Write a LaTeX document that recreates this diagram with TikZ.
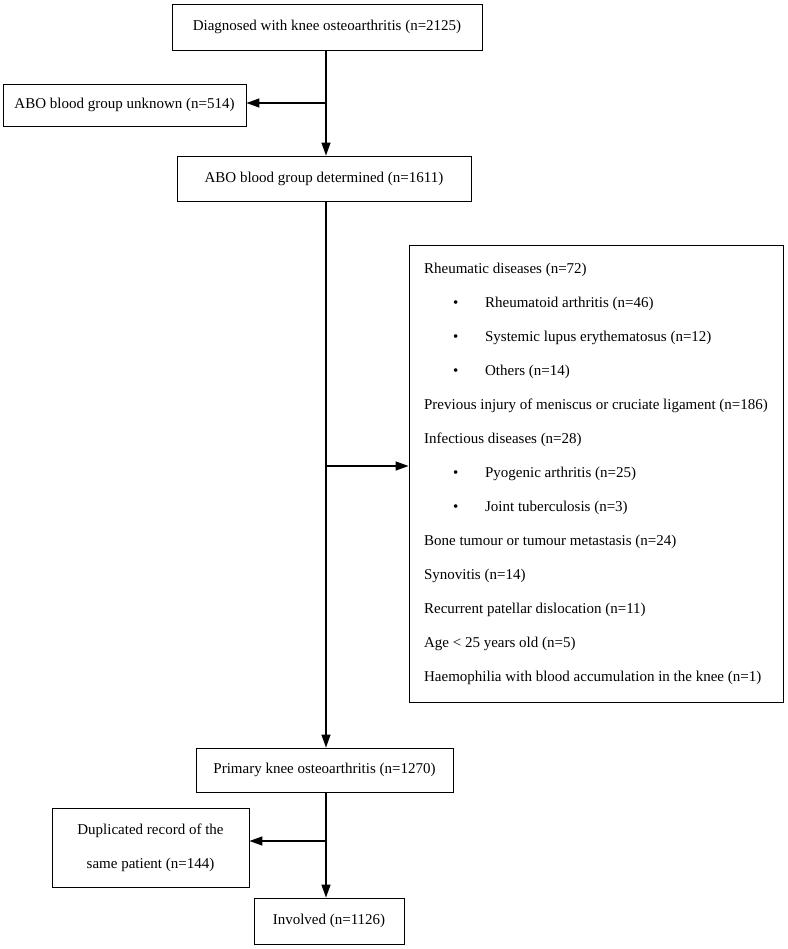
\documentclass[tikz,border=0pt]{standalone}
\usepackage{fontspec}
\setmainfont{Liberation Serif}
\usetikzlibrary{arrows.meta}
\begin{document}
\begin{tikzpicture}
        [x=1pt, y=-1pt,
        box/.style={rectangle, draw, line width=0.9pt, inner sep=0pt, font=\fontsize{15}{34}\selectfont},
        listbox/.style={rectangle, draw, line width=0.9pt, inner xsep=12pt, inner ysep=0pt, align=left, font=\fontsize{15}{34}\selectfont},
        arr/.style={line width=1.4pt, -{Triangle[length=13pt, width=9pt]}},
        line/.style={line width=1.4pt}]
        \useasboundingbox (0,0) rectangle (787,949);

        \node[box, minimum width=310pt, minimum height=46pt] (diag) at (327,27) {Diagnosed with knee osteoarthritis (n=2125)};
        \node[box, minimum width=243pt, minimum height=42pt] (unknown) at (124.5,105) {ABO blood group unknown (n=514)};
        \node[box, minimum width=294pt, minimum height=45pt] (determined) at (324,178.5) {ABO blood group determined (n=1611)};
        \node[listbox, minimum width=374pt, minimum height=457pt] (excl) at (596,473.5) {%
            Rheumatic diseases (n=72)\\
            \makebox[61pt][l]{\hspace{29pt}\textbullet}Rheumatoid arthritis (n=46)\\
            \makebox[61pt][l]{\hspace{29pt}\textbullet}Systemic lupus erythematosus (n=12)\\
            \makebox[61pt][l]{\hspace{29pt}\textbullet}Others (n=14)\\
            Previous injury of meniscus or cruciate ligament (n=186)\\
            Infectious diseases (n=28)\\
            \makebox[61pt][l]{\hspace{29pt}\textbullet}Pyogenic arthritis (n=25)\\
            \makebox[61pt][l]{\hspace{29pt}\textbullet}Joint tuberculosis (n=3)\\
            Bone tumour or tumour metastasis (n=24)\\
            Synovitis (n=14)\\
            Recurrent patellar dislocation (n=11)\\
            Age < 25 years old (n=5)\\
            Haemophilia with blood accumulation in the knee (n=1)};
        \node[box, minimum width=257pt, minimum height=44pt] (primary) at (324.5,770) {Primary knee osteoarthritis (n=1270)};
        \node[box, minimum width=197pt, minimum height=79pt, align=center] (dup) at (150.5,847.5) {Duplicated record of the\\same patient (n=144)};
        \node[box, minimum width=150pt, minimum height=46pt] (involved) at (329,921) {Involved (n=1126)};

        \coordinate (j1) at (326,103);
        \coordinate (j2) at (326,466);
        \coordinate (j3) at (326,841);

        \draw[arr] (j1 |- diag.south) -- (j1 |- determined.north);
        \draw[arr] (j1) -- (j1 -| unknown.east);

        \draw[arr] (j2 |- determined.south) -- (j2 |- primary.north);
        \draw[arr] (j2) -- (j2 -| excl.west);

        \draw[arr] (j3 |- primary.south) -- (j3 |- involved.north);
        \draw[arr] (j3) -- (j3 -| dup.east);

    \end{tikzpicture}
\end{document}
